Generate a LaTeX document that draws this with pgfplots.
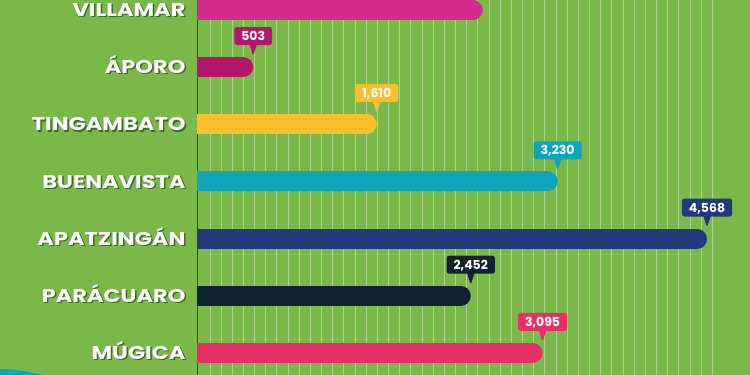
\documentclass[border=0pt]{standalone}
\usepackage{pgfplots}
\pgfplotsset{compat=1.18}
\usepackage{fontspec}
\setmainfont{Poppins}
\usetikzlibrary{shapes.callouts}
\definecolor{bg}{HTML}{7AB84A}
\definecolor{cVil}{HTML}{D62A8C}
\definecolor{cApo}{HTML}{B3176C}
\definecolor{cTin}{HTML}{FBBE2C}
\definecolor{cBue}{HTML}{0EA4B9}
\definecolor{cApa}{HTML}{22397A}
\definecolor{cPar}{HTML}{0F2230}
\definecolor{cMug}{HTML}{E52F66}
\definecolor{shadowc}{HTML}{3E6A2A}
\definecolor{tealc}{HTML}{13A6B4}
\newcommand\shb[1]{\makebox[0pt][l]{\hspace{1.2bp}\raisebox{-1.2bp}{\textcolor{shadowc}{#1}}}\textcolor{white}{#1}}
\newcommand\sh[1]{\scalebox{1.22}[1]{\shb{#1}}}
\tikzset{
  bubble/.style={shape=rectangle callout, rounded corners=2.5bp, text=white,
    draw=none, fill opacity=1, text opacity=1,
    font=\bfseries\fontsize{12.5}{12.5}\selectfont, inner xsep=7bp, inner ysep=4.5bp,
    text height=9bp, text depth=0bp,
    callout relative pointer={(0,-1bp)}, callout pointer width=7bp,
    anchor=pointer, yshift=10.5bp},
}
\pgfplotsset{
  barline/.style={line width=20bp, line cap=round, shorten >=10bp},
  lab/.style={only marks, mark=*, mark size=0pt, mark options={draw=none, fill=none}, point meta=x, nodes near coords, nodes near coords style={bubble, fill=#1}},
}
\begin{document}
\begin{tikzpicture}
\fill[bg] (0,0) rectangle (750bp,375bp);
\fill[tealc] (0,0) -- (0,6bp) .. controls (15bp,6bp) and (30bp,3bp) .. (42bp,0) -- cycle;
\begin{axis}[
  at={(197bp,0)}, anchor=south west,
  width=553bp, height=375bp, scale only axis,
  xmin=0, xmax=4953, ymin=-0.175, ymax=6.385, y dir=reverse,
  axis lines*=left,
  x axis line style={draw=none},
  y axis line style={draw=black!75, line width=1bp, -},
  xtick={116,216,...,4616}, xticklabels={}, xmajorgrids,
  grid style={white, opacity=0.38, line width=0.9bp},
  major tick length=0pt,
  ytick={0,1,2,3,4,5,6},
  yticklabels={\sh{VILLAMAR},\sh{ÁPORO},\sh{TINGAMBATO},\sh{BUENAVISTA},\sh{APATZINGÁN},\sh{PARÁCUARO},\sh{MÚGICA}},
  yticklabel style={font=\bfseries\fontsize{18.5}{18.5}\selectfont, anchor=east, xshift=-8bp, text height=13bp, text depth=0bp},
  /pgf/number format/assume math mode=true,
  /pgf/number format/.cd, fixed, precision=0, 1000 sep={,},
]
\addplot[barline, cVil] coordinates {(0,0) (2560,0)};
\addplot[barline, cApo] coordinates {(0,1) (503,1)};
\addplot[lab=cApo] coordinates {(503,1)};
\addplot[barline, cTin] coordinates {(0,2) (1610,2)};
\addplot[lab=cTin] coordinates {(1610,2)};
\addplot[barline, cBue] coordinates {(0,3) (3230,3)};
\addplot[lab=cBue] coordinates {(3230,3)};
\addplot[barline, cApa] coordinates {(0,4) (4568,4)};
\addplot[lab=cApa] coordinates {(4568,4)};
\addplot[barline, cPar] coordinates {(0,5) (2452,5)};
\addplot[lab=cPar] coordinates {(2452,5)};
\addplot[barline, cMug] coordinates {(0,6) (3095,6)};
\addplot[lab=cMug] coordinates {(3095,6)};
\end{axis}
\pgfresetboundingbox
\path[use as bounding box] (0,0) rectangle (750bp,375bp);
\end{tikzpicture}
\end{document}
